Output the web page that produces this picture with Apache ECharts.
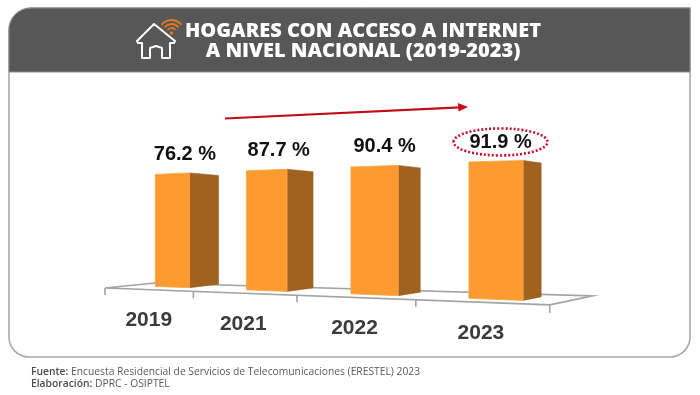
<!DOCTYPE html>
<html><head><meta charset="utf-8">
<style>html,body{margin:0;padding:0;background:#fff}#c{width:700px;height:395px}</style>
<script src="https://cdn.jsdelivr.net/npm/echarts@6/dist/echarts.min.js"></script>
</head><body><div id="c"></div>
<script>
const categories = ['2019', '2021', '2022', '2023'];
const values = [76.2, 87.7, 90.4, 91.9];
const valueSuffix = ' %';
const highlightIndex = 3;
const titleLines = ['HOGARES CON ACCESO A INTERNET', 'A NIVEL NACIONAL (2019-2023)'];
const sourceLabel = 'Fuente:';
const sourceText = ' Encuesta Residencial de Servicios de Telecomunicaciones (ERESTEL) 2023';
const creditLabel = 'Elaboración:';
const creditText = ' DPRC - OSIPTEL';

// Perspective of the picture (styling, not data)
const G = { left: 105, width: 445, top: 148, height: 140 };
const depthScale = [1.05, 0.97, 1.003, 1.06];
const sideWidth = [29, 26, 22, 18];
const labelShift = [12.5, 12, 10, 4.5];
const labelGap = [20, 20, 20, 19];
const band = G.width / categories.length;
function project(X, Y) {
  const i = (X - G.left) / band;
  const x = G.left + 80.8 * i + 7.6 * i * i;
  return [x, Y + 0.038 * (x - G.left)];
}
function renderFloor(params, api) {
  const idx = api.value(0);
  const c = api.coord([idx, 0]);
  const bw = api.size([1, 0])[0];
  const line = { stroke: '#a3a3a3', lineWidth: 1.6, fill: null };
  const kids = [];
  const edge = c[0] - bw / 2;
  const tick = project(edge, c[1]);
  kids.push({ type: 'line', shape: { x1: tick[0], y1: tick[1], x2: tick[0], y2: tick[1] + 7 }, style: line });
  if (idx === categories.length - 1) {
    const r = project(edge + bw, c[1]);
    kids.push({ type: 'line', shape: { x1: r[0], y1: r[1], x2: r[0], y2: r[1] + 8 }, style: line });
    const l = project(G.left, c[1]);
    kids.push({ type: 'polygon', shape: { points: [l, [l[0] + 50, l[1] - 5], [r[0] + 43, r[1] - 9], r] }, style: line });
  }
  const m = project(c[0], c[1]);
  kids.push({ type: 'text', style: { text: categories[idx], x: m[0] + (idx === 0 ? 1.5 : 0), y: m[1] + 31, align: 'center', verticalAlign: 'middle',
    font: 'bold 21px "Liberation Sans"', fill: '#3b3b3b' } });
  return { type: 'group', children: kids };
}
function renderBar(params, api) {
  const idx = api.value(0), val = api.value(1);
  const base = api.coord([idx, 0]);
  const top = api.coord([idx, val]);
  const bw = api.size([1, 0])[0];
  const h = (base[1] - top[1]) * depthScale[idx];
  const edge = base[0] - bw / 2;
  const f0 = 0.59 - 0.06 * idx, f1 = 0.96 - 0.05 * idx;
  const bl = project(edge + f0 * bw, base[1]); bl[1] -= 3.5;
  const br = project(edge + f1 * bw, base[1]); br[1] -= 3.5;
  const tl = [bl[0], bl[1] - h];
  const tr = [br[0], bl[1] - h - 1.5];
  const sw = sideWidth[idx];
  const sb = [br[0] + sw, br[1] - 3.5];
  const st = [br[0] + sw, tr[1] + 2.5];
  const labelX = (bl[0] + br[0]) / 2 + labelShift[idx];
  const labelY = tl[1] - labelGap[idx];
  const kids = [
    { type: 'polygon', shape: { points: [tr, st, sb, br] }, style: { fill: '#a0621f', stroke: '#8f5518', lineWidth: 0.5 } },
    { type: 'polygon', shape: { points: [tl, tr, br, bl] }, style: { fill: '#fd9a30', stroke: '#fda544', lineWidth: 0.8 } },
    { type: 'text', style: { text: val.toFixed(1) + valueSuffix, x: labelX, y: labelY, align: 'center', verticalAlign: 'middle',
      font: 'bold 20px "Liberation Sans"', fill: '#111111' } }
  ];
  if (idx === highlightIndex) {
    kids.push({ type: 'ellipse', shape: { cx: labelX, cy: labelY - 1, rx: 47, ry: 13.5 },
      style: { fill: null, stroke: '#c4122a', lineWidth: 2.6, lineDash: [2, 2] } });
  }
  return { type: 'group', children: kids };
}
const seriesData = values.map((v, i) => [i, v]);
const chart = echarts.init(document.getElementById('c'));
chart.setOption({
  animation: false,
  backgroundColor: '#ffffff',
  grid: { left: G.left, width: G.width, top: G.top, height: G.height },
  xAxis: { type: 'category', data: categories, show: false },
  yAxis: { type: 'value', min: 0, max: 100, show: false },
  title: [
    { text: titleLines.join('\n'), left: 358, top: 16, textAlign: 'center',
      textStyle: { color: '#ffffff', fontFamily: 'Open Sans', fontWeight: 800, fontSize: 20, lineHeight: 20 } },
    { text: '{b|' + sourceLabel + '}{n|' + sourceText + '}\n{b|' + creditLabel + '}{n|' + creditText + '}', left: 26, top: 361,
      textStyle: { fontWeight: 'normal', rich: {
        b: { fontFamily: 'Open Sans', fontWeight: 600, fontSize: 10.3, color: '#4d4d4d', lineHeight: 12 },
        n: { fontFamily: 'Open Sans', fontWeight: 'normal', fontSize: 10.3, color: '#5a5a5a', lineHeight: 12 } } } }
  ],
  graphic: [
    { type: 'rect', z: 0, shape: { x: 9, y: 8, width: 681, height: 349, r: [22, 0, 20, 20] },
      style: { fill: '#ffffff', stroke: '#a8a8a8', lineWidth: 1.6 } },
    { type: 'rect', z: 1, shape: { x: 9, y: 8, width: 681, height: 64, r: [22, 0, 0, 0] },
      style: { fill: '#575757', stroke: '#8c8c8c', lineWidth: 1 } },
    { type: 'polygon', z: 3, shape: { points: [[154, 24], [175, 41], [174, 43], [170, 43], [170, 58], [162, 58], [162, 48], [156, 46], [150, 48], [150, 58], [142, 58], [142, 43], [138, 43], [137, 41]] },
      style: { fill: 'transparent', stroke: '#ffffff', lineWidth: 2, lineJoin: 'round' } },
    { type: 'arc', z: 3, shape: { cx: 171.5, cy: 33, r: 5, startAngle: -Math.PI * 0.78, endAngle: -Math.PI * 0.22 }, style: { fill: null, stroke: '#e9781c', lineWidth: 1.8 } },
    { type: 'arc', z: 3, shape: { cx: 171.5, cy: 33, r: 9, startAngle: -Math.PI * 0.78, endAngle: -Math.PI * 0.22 }, style: { fill: null, stroke: '#e9781c', lineWidth: 1.8 } },
    { type: 'arc', z: 3, shape: { cx: 171.5, cy: 33, r: 13, startAngle: -Math.PI * 0.78, endAngle: -Math.PI * 0.22 }, style: { fill: null, stroke: '#e9781c', lineWidth: 1.8 } },
    { type: 'circle', z: 3, shape: { cx: 171.5, cy: 33, r: 1.8 }, style: { fill: '#e9781c' } },
    { type: 'line', z: 3, shape: { x1: 225, y1: 118.5, x2: 460, y2: 107.4 }, style: { stroke: '#c00d18', lineWidth: 2.2 } },
    { type: 'polygon', z: 3, shape: { points: [[468, 107], [458, 103], [458.5, 111.5]] }, style: { fill: '#c00d18' } }
  ],
  series: [
    { type: 'custom', z: 2, coordinateSystem: 'cartesian2d', renderItem: renderFloor, encode: { x: 0, y: 1 }, data: seriesData, silent: true },
    { type: 'custom', z: 3, coordinateSystem: 'cartesian2d', renderItem: renderBar, encode: { x: 0, y: 1 }, data: seriesData, silent: true }
  ]
});
</script></body></html>
